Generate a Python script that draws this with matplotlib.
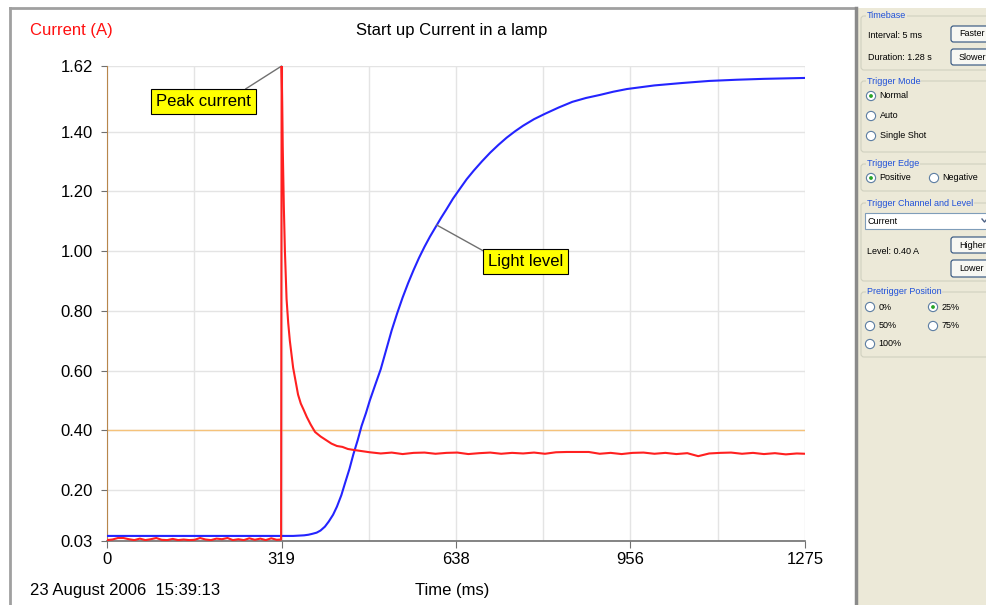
import matplotlib
matplotlib.use("Agg")
import matplotlib.pyplot as plt
import numpy as np
from matplotlib.patches import Rectangle, FancyBboxPatch, Circle

plt.rcParams['font.family'] = ['Liberation Sans', 'DejaVu Sans']

# ==============================
# DATA (read off the screen capture)
# ==============================

# current before switch-on (A)
base_t = list(range(0, 320, 10))
base_i = [0.033, 0.035, 0.040, 0.040, 0.036, 0.033, 0.038, 0.033, 0.036, 0.040,
          0.034, 0.033, 0.037, 0.033, 0.035, 0.033, 0.034, 0.040, 0.035, 0.033,
          0.038, 0.036, 0.040, 0.033, 0.036, 0.033, 0.039, 0.034, 0.038, 0.033,
          0.039, 0.034]

# switch-on spike and decay
spike_t = [318, 319, 320, 321, 323, 325, 328, 331, 334, 340, 345, 349, 354, 359,
           365, 372, 380, 390, 400, 410, 420, 430, 440, 450, 465, 480]
spike_i = [0.035, 1.62, 1.50, 1.35, 1.15, 1.00, 0.84, 0.76, 0.70, 0.61, 0.56, 0.52,
           0.49, 0.47, 0.445, 0.42, 0.395, 0.38, 0.368, 0.356, 0.348, 0.345, 0.338,
           0.335, 0.331, 0.327]

# steady running current
tail_t = list(range(500, 1261, 20)) + [1275]
tail_i = [0.323, 0.326, 0.321, 0.325, 0.326, 0.322, 0.325, 0.326, 0.321, 0.324,
          0.326, 0.322, 0.325, 0.323, 0.326, 0.322, 0.327, 0.328, 0.328, 0.328,
          0.322, 0.325, 0.321, 0.325, 0.326, 0.322, 0.325, 0.321, 0.324, 0.314,
          0.323, 0.325, 0.326, 0.322, 0.325, 0.321, 0.324, 0.320, 0.323, 0.322]

# light level (plotted on the same scale)
light_t = [0, 100, 200, 300, 340, 350, 360, 368, 375, 383, 390, 398, 405, 413,
           420, 428, 435, 443, 450, 458, 465, 473, 480, 490, 500, 510, 520, 530,
           540, 550, 560, 570, 580, 590, 600, 610, 620, 632, 645, 657, 670, 685,
           700, 715, 730, 745, 760, 780, 800, 825, 850, 875, 900, 925, 950, 975,
           1000, 1050, 1100, 1150, 1200, 1275]
light_v = [0.047, 0.047, 0.047, 0.047, 0.047, 0.048, 0.049, 0.051, 0.054, 0.058,
           0.065, 0.078, 0.095, 0.118, 0.145, 0.183, 0.225, 0.272, 0.32, 0.368,
           0.415, 0.458, 0.50, 0.553, 0.605, 0.670, 0.735, 0.792, 0.845, 0.893,
           0.937, 0.978, 1.015, 1.049, 1.08, 1.111, 1.14, 1.176, 1.21, 1.241,
           1.27, 1.301, 1.33, 1.356, 1.38, 1.401, 1.42, 1.442, 1.46, 1.481, 1.50,
           1.513, 1.523, 1.534, 1.543, 1.549, 1.555, 1.563, 1.570, 1.574, 1.577,
           1.58]

trigger_level = 0.40

x_ticks = [0, 318.75, 637.5, 956.25, 1275]
x_tick_labels = ["0", "319", "638", "956", "1275"]
x_grid = [159.375, 478.125, 796.875, 1115.625]
y_ticks = [0.03, 0.20, 0.40, 0.60, 0.80, 1.00, 1.20, 1.40, 1.62]

current_t = base_t + spike_t + tail_t
current_i = base_i + spike_i + tail_i

# ==============================
# FIGURE
# ==============================

fig = plt.figure(figsize=(9.87, 6.05), dpi=100)
fig.patch.set_facecolor("white")

# pixel-space layer for the window frame and the side panel
bg = fig.add_axes([0, 0, 1, 1], zorder=0)
bg.set_xlim(0, 987)
bg.set_ylim(605, 0)
bg.axis("off")

ax = fig.add_axes([107 / 987, 64 / 605, 698 / 987, 475 / 605], zorder=1)

ax.plot(current_t, current_i, color="#ff2020", lw=1.5, zorder=4)
ax.plot(light_t, light_v, color="#2424ff", lw=1.5, zorder=3)
ax.axhline(trigger_level, color="#f5c27a", lw=1, zorder=2)

ax.set_xlim(0, 1275)
ax.set_ylim(0.03, 1.62)
ax.set_xticks(x_ticks)
ax.set_xticklabels(x_tick_labels, fontsize=12)
ax.set_xticks(x_grid, minor=True)
ax.set_yticks(y_ticks)
ax.set_yticklabels([f"{v:.2f}" for v in y_ticks], fontsize=12)
ax.grid(True, which="both", color="#e4e4e4", lw=1, zorder=0)
ax.tick_params(axis="x", which="major", length=5, color="#707070", pad=3)
ax.tick_params(axis="x", which="minor", length=0)
ax.tick_params(axis="y", length=4, color="#707070", pad=6)

for side in ["top", "right"]:
    ax.spines[side].set_visible(False)
ax.spines["left"].set_color("#b8864b")
ax.spines["bottom"].set_color("#707070")
ax.spines["bottom"].set_linewidth(1.2)

ax.annotate("Peak current", xy=(319, 1.62), xytext=(177, 1.50),
            ha="center", va="center", fontsize=12,
            bbox=dict(boxstyle="square,pad=0.3", fc="#ffff00", ec="black", lw=0.8),
            arrowprops=dict(arrowstyle="-", color="#707070", lw=1,
                            relpos=(0.85, 1.0), shrinkA=0, shrinkB=0))
ax.annotate("Light level", xy=(602, 1.088), xytext=(765, 0.967),
            ha="center", va="center", fontsize=12,
            bbox=dict(boxstyle="square,pad=0.3", fc="#ffff00", ec="black", lw=0.8),
            arrowprops=dict(arrowstyle="-", color="#707070", lw=1,
                            relpos=(0.0, 1.0), shrinkA=0, shrinkB=0))

# window frame
bg.plot([10, 856], [8, 8], color="#a0a0a0", lw=2)
bg.plot([10, 10], [8, 605], color="#a0a0a0", lw=2)

bg.text(452, 31, "Start up Current in a lamp", ha="center", va="center", fontsize=12)
bg.text(30, 31, "Current (A)", color="#ff1010", ha="left", va="center", fontsize=12)
bg.text(452, 590, "Time (ms)", ha="center", va="center", fontsize=12)
bg.text(30, 590, "23 August 2006  15:39:13", ha="left", va="center", fontsize=12)

# ==============================
# SIDE PANEL (controls)
# ==============================

panel_bg = "#ece9d8"
blue_txt = "#1f50d8"
small = 6.5

bg.add_patch(Rectangle((856, 8), 140, 600, fc=panel_bg, ec="none"))
bg.plot([856, 856], [8, 605], color="#8a8a8a", lw=2.5)

groups = [("Timebase", 16, 70), ("Trigger Mode", 81, 152), ("Trigger Edge", 164, 191),
          ("Trigger Channel and Level", 203, 281), ("Pretrigger Position", 292, 357)]
for title, y0, y1 in groups:
    bg.add_patch(FancyBboxPatch((861, y0), 140, y1 - y0,
                                boxstyle="round,pad=0,rounding_size=3",
                                fc="none", ec="#d0d0bf", lw=0.8))
    bg.text(867, y0, title, color=blue_txt, fontsize=small, ha="left", va="center",
            bbox=dict(fc=panel_bg, ec="none", pad=0.5))

buttons = [("Faster", 26, 42), ("Slower", 49, 65), ("Higher", 237, 253), ("Lower", 260, 277)]
for label, y0, y1 in buttons:
    bg.add_patch(FancyBboxPatch((951, y0), 50, y1 - y0,
                                boxstyle="round,pad=0,rounding_size=2.5",
                                fc="#f7f7f2", ec="#2c4f7c", lw=0.8))
    bg.text(959, (y0 + y1) / 2, label, fontsize=small, ha="left", va="center")

bg.text(868, 35, "Interval: 5 ms", fontsize=small, ha="left", va="center")
bg.text(868, 57, "Duration: 1.28 s", fontsize=small, ha="left", va="center")
bg.text(867, 252, "Level: 0.40 A", fontsize=small, ha="left", va="center")

# combo box
bg.add_patch(Rectangle((865, 213), 130, 16, fc="white", ec="#7f9db9", lw=0.8))
bg.text(868, 221, "Current", fontsize=small, ha="left", va="center")
bg.plot([982, 984.5, 987], [219, 222, 219], color="#4d6185", lw=1)

radios = [("Normal", 871, 96, True), ("Auto", 871, 116, False),
          ("Single Shot", 871, 136, False), ("Positive", 871, 178, True),
          ("Negative", 934, 178, False), ("0%", 870, 307, False),
          ("25%", 933, 307, True), ("50%", 870, 326, False),
          ("75%", 933, 326, False), ("100%", 870, 344, False)]
for label, cx, cy, selected in radios:
    bg.add_patch(Circle((cx, cy), 4.6, fc="white", ec="#5d7ea3", lw=0.8))
    if selected:
        bg.add_patch(Circle((cx, cy), 1.9, fc="#28a428", ec="none"))
    bg.text(cx + 8.5, cy, label, fontsize=small, ha="left", va="center")

fig.savefig("out.png", dpi=100, facecolor="white")
